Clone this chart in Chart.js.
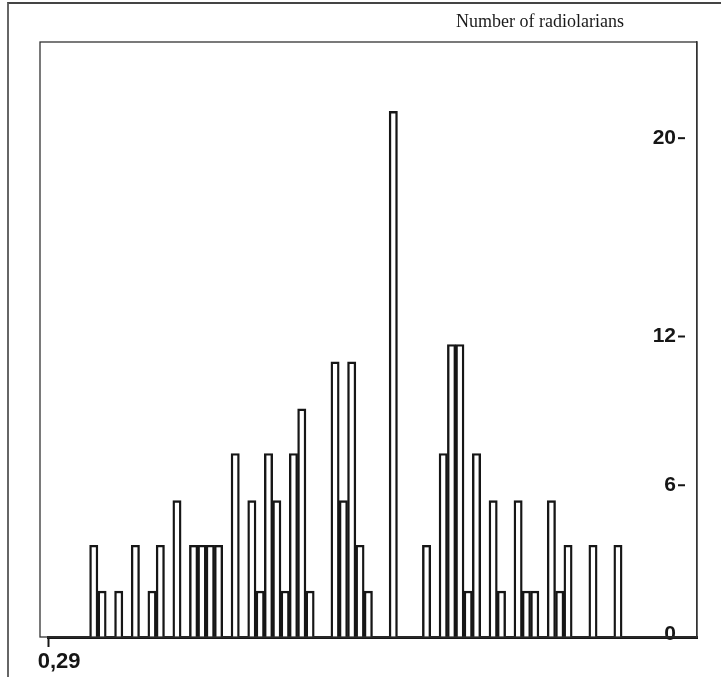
<!DOCTYPE html>
<html>
<head>
<meta charset="utf-8">
<script src="https://cdn.jsdelivr.net/npm/chart.js@4.4.1/dist/chart.umd.min.js"></script>
<style>
  html, body { margin: 0; padding: 0; background: #fff; }
  #wrap { position: relative; width: 721px; height: 677px; }
  #edge { position: absolute; left: 7px; top: 2px; right: 0; bottom: 0; border-top: 2px solid #444; border-left: 2px solid #666; }
  canvas { position: absolute; left: 0; top: 0; }
</style>
</head>
<body>
<div id="wrap">
  <div id="edge"></div>
  <canvas id="chart" width="721" height="677"></canvas>
</div>
<script>
// bins along the size axis; only the first one is labelled
const xTickLabels = ['0,29'];
const leadingEmptyBins = [null, null, null, null, null];
const trailingEmptyBins = [null, null, null, null, null, null, null, null, null];

// number of radiolarians per bin
const counts = [
  3.7, 1.85, null, 1.85, null, 3.7, null, 1.85, 3.7, null,
  5.5, null, 3.7, 3.7, 3.7, 3.7, null, 7.4, null, 5.5,
  1.85, 7.4, 5.5, 1.85, 7.4, 9.2, 1.85, null, null, 11.1,
  5.5, 11.1, 3.7, 1.85, null, null, 21.2, null, null, null,
  3.7, null, 7.4, 11.8, 11.8, 1.85, 7.4, null, 5.5, 1.85,
  null, 5.5, 1.85, 1.85, null, 5.5, 1.85, 3.7, null, null,
  3.7, null, null, 3.7
];

const yTicks = [0, 6, 12, 20];
const titleText = 'Number of radiolarians';

const values = [...leadingEmptyBins, ...counts, ...trailingEmptyBins];
const labels = values.map((v, i) => (i < xTickLabels.length ? xTickLabels[i] : ''));

const ink = '#161616';
const yLabelShift = -3;

const framePlugin = {
  id: 'frame',
  afterDraw(chart) {
    const { ctx, chartArea } = chart;
    const yScale = chart.scales.y;
    ctx.save();
    // outer box
    ctx.strokeStyle = '#333';
    ctx.lineWidth = 1.3;
    ctx.strokeRect(chartArea.left - 8, chartArea.top, chartArea.right - chartArea.left + 8, chartArea.bottom - chartArea.top);
    // little dashes next to the value labels
    ctx.strokeStyle = ink;
    ctx.lineWidth = 2;
    yTicks.slice(1).forEach((v) => {
      const y = yScale.getPixelForValue(v) + yLabelShift;
      ctx.beginPath();
      ctx.moveTo(chartArea.right - 19, y);
      ctx.lineTo(chartArea.right - 12, y);
      ctx.stroke();
    });
    // title
    ctx.fillStyle = '#1a1a1a';
    ctx.font = '18px "Liberation Serif"';
    ctx.textAlign = 'right';
    ctx.textBaseline = 'alphabetic';
    ctx.fillText(titleText, 624, 27);
    ctx.restore();
  }
};

new Chart(document.getElementById('chart'), {
  type: 'bar',
  data: {
    labels: labels,
    datasets: [{
      data: values,
      backgroundColor: '#fff',
      borderColor: ink,
      borderWidth: 2.4,
      barPercentage: 1,
      categoryPercentage: 1
    }]
  },
  options: {
    responsive: false,
    animation: false,
    layout: { padding: { top: 42, left: 48, right: 0, bottom: 0 } },
    plugins: { legend: { display: false }, tooltip: { enabled: false } },
    scales: {
      x: {
        afterFit: (scale) => { scale.height = 40; },
        grid: {
          drawOnChartArea: false,
          drawTicks: true,
          tickLength: 10,
          tickWidth: 2,
          tickColor: (c) => (c.index === 0 ? ink : 'rgba(0,0,0,0)')
        },
        border: { display: true, color: ink, width: 3 },
        ticks: {
          autoSkip: false,
          maxRotation: 0,
          labelOffset: 7,
          padding: 2,
          color: ink,
          font: { family: 'Liberation Sans', weight: 'bold', size: 22 }
        }
      },
      y: {
        position: 'right',
        min: 0,
        max: 24,
        afterFit: (scale) => { scale.width = 24; },
        afterBuildTicks: (scale) => { scale.ticks = yTicks.map((v) => ({ value: v })); },
        grid: { display: false },
        border: { display: true, color: '#333', width: 1.3 },
        ticks: {
          mirror: true,
          padding: -21,
          labelOffset: yLabelShift,
          color: ink,
          font: { family: 'Liberation Sans', weight: 'bold', size: 21 }
        }
      }
    }
  },
  plugins: [framePlugin]
});
</script>
</body>
</html>
